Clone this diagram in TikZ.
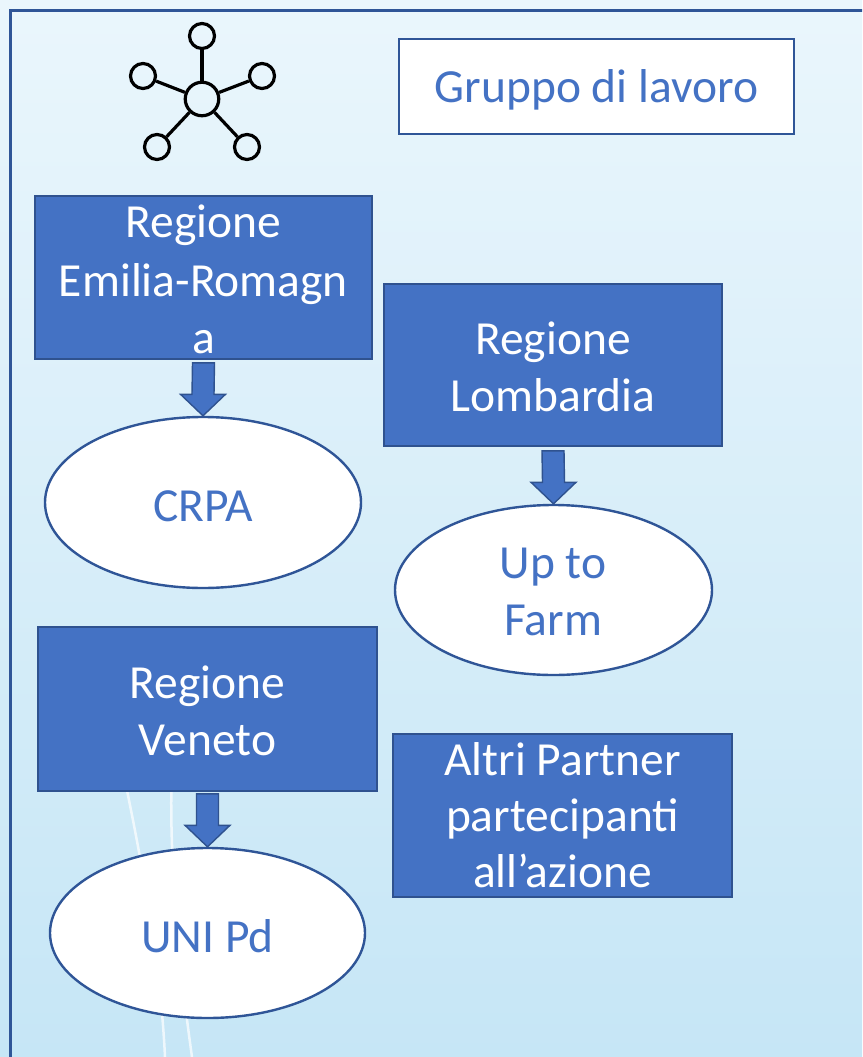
\documentclass[tikz,border=0pt]{standalone}
\usepackage{fontspec}
\setmainfont{Carlito}
\usetikzlibrary{shapes.geometric,calc}
\definecolor{boxfill}{HTML}{4472C4}
\definecolor{boxline}{HTML}{2F528F}
\definecolor{txtblue}{HTML}{4472C4}
\definecolor{framecol}{HTML}{2F5597}
\definecolor{bgtop}{HTML}{EAF6FC}
\definecolor{bgbot}{HTML}{C6E6F6}
\newcommand\blockarr[2]{%
  \draw[arrowst] ($(#1)+(-11,0)$) -- ($(#1)+(11,0)$) -- ($(#2)+(11,-21.5)$)
    -- ($(#2)+(22.5,-21.5)$) -- (#2) -- ($(#2)+(-22.5,-21.5)$)
    -- ($(#2)+(-11,-21.5)$) -- cycle;}
\tikzset{
  bluebox/.style={rectangle, draw=boxline, line width=1.6pt, fill=boxfill, inner sep=0pt},
  whitebox/.style={rectangle, draw=framecol, line width=2.4pt, fill=white, inner sep=0pt},
  oval/.style={ellipse, draw=framecol, line width=2.4pt, fill=white, inner sep=0pt},
  txtw/.style={text=white, font=\fontsize{47.5}{57}\selectfont, inner sep=0pt, anchor=base},
  txtb/.style={text=txtblue, font=\fontsize{47.5}{57}\selectfont, inner sep=0pt, anchor=base},
  arrowst/.style={draw=boxline, line width=1.4pt, fill=boxfill, line join=miter},
  iconc/.style={circle, draw=black, line width=3.2pt, fill=none, inner sep=0pt},
  iconl/.style={draw=black, line width=3.2pt},
  framest/.style={draw=framecol, line width=3pt},
  stem/.style={draw=white, line width=2.5pt, opacity=0.7}
}
\begin{document}
\begin{tikzpicture}[x=1pt,y=-1pt]
\useasboundingbox (0,0) rectangle (862,1057);
\begin{scope}
\clip (0,0) rectangle (862,1057);
\shade[top color=bgtop, bottom color=bgbot] (0,0) rectangle (862,1057);
\draw[stem] (105,690) .. controls (135,820) and (160,950) .. (165,1057);
\draw[stem] (190,640) .. controls (160,740) and (170,900) .. (192,1057);
\draw[framest] (10,1070) -- (10,11) -- (875,11);
\end{scope}

% icon
\node[iconc, minimum size=33.5pt] (ic0) at (202,99) {};
\node[iconc, minimum size=25pt] (ic1) at (202,36) {};
\node[iconc, minimum size=25pt] (ic2) at (143,76) {};
\node[iconc, minimum size=25pt] (ic3) at (262,76) {};
\node[iconc, minimum size=25pt] (ic4) at (157,147) {};
\node[iconc, minimum size=25pt] (ic5) at (247,147) {};
\foreach \i in {1,...,5} {\draw[iconl] (ic0) -- (ic\i);}

% title box
\node[whitebox, minimum width=395pt, minimum height=95pt] (grp) at (596.5,86.5) {};
\node[txtb] (grpT) at (596.5,102) {Gruppo di lavoro};

% boxes
\node[bluebox, minimum width=337pt, minimum height=163pt] (er) at (203.5,277.5) {};
\node[txtw] (erT1) at (203.5,237) {Regione};
\node[txtw] (erT2) at (203.5,296) {Emilia-Romagn};
\node[txtw] (erT3) at (203.5,353) {a};

\node[bluebox, minimum width=338pt, minimum height=162pt] (lo) at (553,365) {};
\node[txtw] (loT1) at (553,354) {Regione};
\node[txtw] (loT2) at (553,411) {Lombardia};

\node[bluebox, minimum width=339pt, minimum height=164pt] (ve) at (207.5,709) {};
\node[txtw] (veT1) at (207.5,698) {Regione};
\node[txtw] (veT2) at (207.5,755) {Veneto};

\node[bluebox, minimum width=339pt, minimum height=163pt] (al) at (562.5,815.5) {};
\node[txtw] (alT1) at (562.5,775) {Altri Partner};
\node[txtw] (alT2) at (562.5,831) {partecipanti};
\node[txtw] (alT3) at (562.5,887) {all’azione};

% ellipses
\node[oval, minimum width=316pt, minimum height=171pt] (crpa) at (203,502.5) {};
\node[txtb] (crpaT) at (203.5,521) {CRPA};

\node[oval, minimum width=317pt, minimum height=170pt] (utf) at (553.5,590) {};
\node[txtb] (utfT1) at (553,578) {Up to};
\node[txtb] (utfT2) at (553,635) {Farm};

\node[oval, minimum width=315pt, minimum height=170pt] (uni) at (207.5,933) {};
\node[txtb] (uniT) at (207.5,952) {UNI Pd};

% block arrows
\coordinate (a1) at ($(er.south)+(0,3)$);
\coordinate (a2) at ($(lo.south)+(0,4)$);
\coordinate (a3) at ($(ve.south)+(0,2)$);
\blockarr{a1}{crpa.north}
\blockarr{a2}{utf.north}
\blockarr{a3}{uni.north}
\end{tikzpicture}
\end{document}
